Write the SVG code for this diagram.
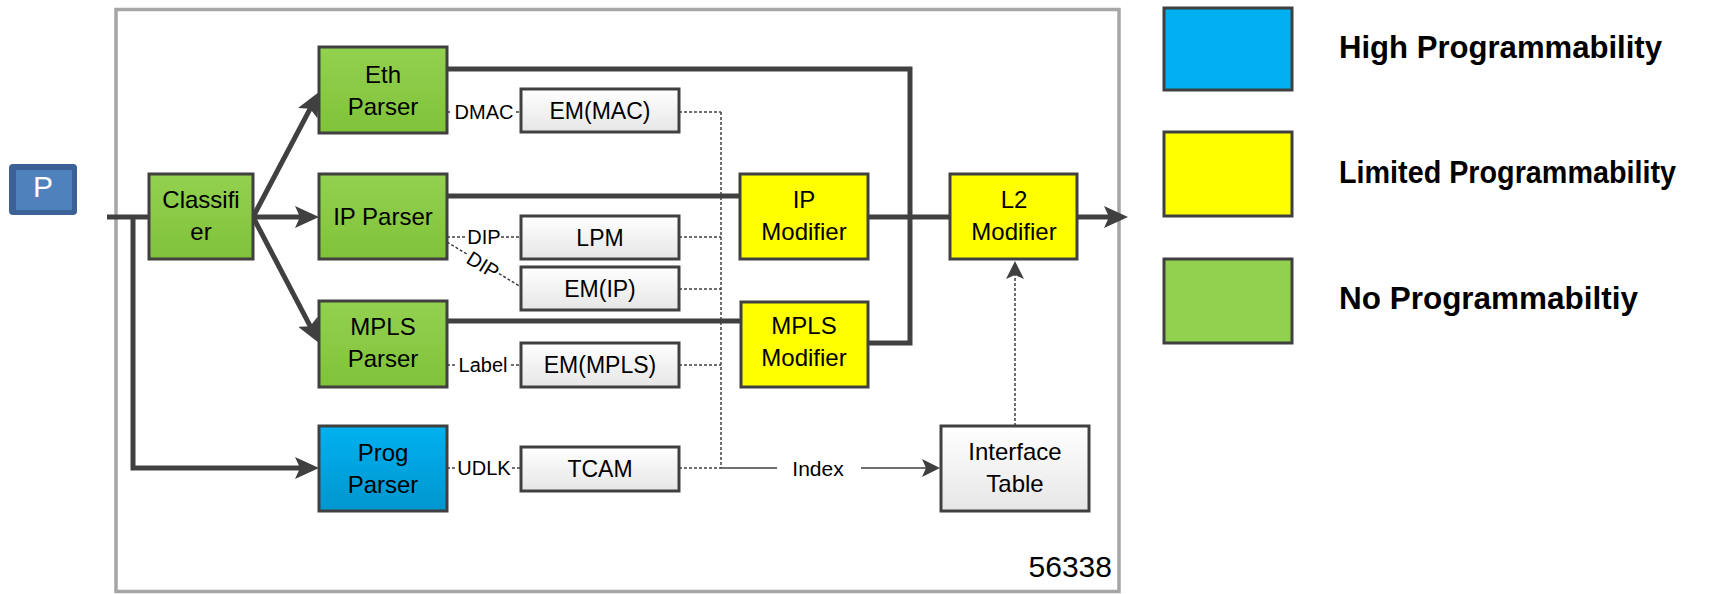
<svg xmlns="http://www.w3.org/2000/svg" width="1723" height="594" viewBox="0 0 1723 594">
<style>
.t{font-family:"Liberation Sans",Arial,sans-serif;fill:#000;text-anchor:middle}
.bx{font-size:24px}
.em{font-size:23px}
.lb{font-size:20px}
.lg{font-size:31px;font-weight:bold;text-anchor:start}
.node{stroke:#404040;stroke-width:3}
.thick{fill:none;stroke:#404040;stroke-width:5}
.thin{fill:none;stroke:#404040;stroke-width:1.5}
.dot{fill:none;stroke:#404040;stroke-width:1.5;stroke-dasharray:3 2}
</style>
<defs>
<linearGradient id="gGreen" x1="0" y1="0" x2="0" y2="1"><stop offset="0" stop-color="#93D150"/><stop offset="1" stop-color="#80C23A"/></linearGradient>
<linearGradient id="gBlue" x1="0" y1="0" x2="0" y2="1"><stop offset="0" stop-color="#00B1F0"/><stop offset="1" stop-color="#0096CE"/></linearGradient>
<linearGradient id="gGray" x1="0" y1="0" x2="0" y2="1"><stop offset="0" stop-color="#FFFFFF"/><stop offset="1" stop-color="#E6E6E6"/></linearGradient>
<marker id="ah" markerUnits="userSpaceOnUse" markerWidth="24" markerHeight="22" refX="14" refY="11" orient="auto"><path d="M0,0 L24,11 L0,22 L5,11 z" fill="#404040"/></marker>
<marker id="ahs" markerUnits="userSpaceOnUse" markerWidth="18" markerHeight="18" refX="10" refY="9" orient="auto"><path d="M0,0 L18,9 L0,18 L4,9 z" fill="#404040"/></marker>
</defs>
<rect width="1723" height="594" fill="#FFFFFF"/>
<rect id="frame" x="116" y="9.5" width="1003" height="582" fill="none" stroke="#A6A6A6" stroke-width="3.5"/>

<g id="connectors">
<path class="thick" d="M107,217 H149"/>
<path class="thick" d="M133,217 V468 H309" marker-end="url(#ah)"/>
<path class="thick" d="M253,217 L314.3,100.8" marker-end="url(#ah)"/>
<path class="thick" d="M253,217 H309" marker-end="url(#ah)"/>
<path class="thick" d="M253,217 L314.4,334.1" marker-end="url(#ah)"/>
<path class="thick" d="M447,69 H910 V343 H868"/>
<path class="thick" d="M447,196 H740"/>
<path class="thick" d="M447,321 H741"/>
<path class="thick" d="M868,217 H950"/>
<path class="thick" d="M1077,217 H1118" marker-end="url(#ah)"/>
<path class="dot" d="M447,112 H451 M516,112 H521"/>
<path class="dot" d="M447,237 H466 M501,237 H521"/>
<path class="dot" d="M447,242 L467,254.2 M499,273.6 L521,287"/>
<path class="dot" d="M447,365 H455 M511,365 H521"/>
<path class="dot" d="M447,468 H455 M512,468 H521"/>
<path class="dot" d="M679,112 H721 M679,237 H721 M679,289 H721 M679,365 H721 M679,468 H721 M721,112 V468"/>
<path class="thin" d="M721,468 H777"/>
<path class="thin" d="M861,468 H932" marker-end="url(#ahs)"/>
<path class="dot" d="M1015,426 V269" marker-end="url(#ahs)"/>
<text class="t lb" x="484" y="119">DMAC</text>
<text class="t lb" x="484" y="244">DIP</text>
<text class="t lb" x="0" y="0" transform="translate(483,265) rotate(31.3)" dy="7">DIP</text>
<text class="t lb" x="483" y="372">Label</text>
<text class="t lb" x="484" y="475">UDLK</text>
<text class="t" style="font-size:21px" x="818" y="476">Index</text>
</g>

<g id="packet">
<rect x="9" y="164" width="68" height="51" rx="4" fill="#3B6196"/>
<rect x="16" y="170" width="56" height="40" fill="#4F81BD"/>
<text class="t" style="font-size:30px;fill:#FFFFFF" x="43" y="197">P</text>
</g>

<g id="classifier">
<rect class="node" x="149" y="174" width="104" height="85" fill="url(#gGreen)"/>
<text class="t bx" x="201" y="208">Classifi</text>
<text class="t bx" x="201" y="240">er</text>
</g>
<g id="eth-parser">
<rect class="node" x="319" y="47" width="128" height="86" fill="url(#gGreen)"/>
<text class="t bx" x="383" y="83">Eth</text>
<text class="t bx" x="383" y="115">Parser</text>
</g>
<g id="ip-parser">
<rect class="node" x="319" y="174" width="128" height="85" fill="url(#gGreen)"/>
<text class="t bx" x="383" y="225">IP Parser</text>
</g>
<g id="mpls-parser">
<rect class="node" x="319" y="301" width="128" height="86" fill="url(#gGreen)"/>
<text class="t bx" x="383" y="335">MPLS</text>
<text class="t bx" x="383" y="367">Parser</text>
</g>
<g id="prog-parser">
<rect class="node" x="319" y="426" width="128" height="85" fill="url(#gBlue)"/>
<text class="t bx" x="383" y="461">Prog</text>
<text class="t bx" x="383" y="493">Parser</text>
</g>

<g id="em-mac">
<rect class="node" x="521" y="89" width="158" height="43" fill="url(#gGray)"/>
<text class="t em" x="600" y="119">EM(MAC)</text>
</g>
<g id="lpm">
<rect class="node" x="521" y="216" width="158" height="43" fill="url(#gGray)"/>
<text class="t em" x="600" y="246">LPM</text>
</g>
<g id="em-ip">
<rect class="node" x="521" y="267" width="158" height="43" fill="url(#gGray)"/>
<text class="t em" x="600" y="297">EM(IP)</text>
</g>
<g id="em-mpls">
<rect class="node" x="521" y="343" width="158" height="44" fill="url(#gGray)"/>
<text class="t em" x="600" y="373">EM(MPLS)</text>
</g>
<g id="tcam">
<rect class="node" x="521" y="447" width="158" height="44" fill="url(#gGray)"/>
<text class="t em" x="600" y="477">TCAM</text>
</g>

<g id="ip-modifier">
<rect class="node" x="740" y="174" width="128" height="85" fill="#FFFF00"/>
<text class="t bx" x="804" y="208">IP</text>
<text class="t bx" x="804" y="240">Modifier</text>
</g>
<g id="mpls-modifier">
<rect class="node" x="741" y="302" width="127" height="85" fill="#FFFF00"/>
<text class="t bx" x="804" y="334">MPLS</text>
<text class="t bx" x="804" y="366">Modifier</text>
</g>
<g id="l2-modifier">
<rect class="node" x="950" y="174" width="127" height="85" fill="#FFFF00"/>
<text class="t bx" x="1014" y="208">L2</text>
<text class="t bx" x="1014" y="240">Modifier</text>
</g>
<g id="interface-table">
<rect class="node" x="941" y="426" width="148" height="85" fill="url(#gGray)"/>
<text class="t bx" x="1015" y="460">Interface</text>
<text class="t bx" x="1015" y="492">Table</text>
</g>

<text class="t" style="font-size:30px;text-anchor:end" x="1112" y="577">56338</text>

<g id="legend">
<rect class="node" x="1164" y="8" width="128" height="82" fill="#00B0F0"/>
<text class="t lg" x="1339" y="58" textLength="323" lengthAdjust="spacingAndGlyphs">High Programmability</text>
<rect class="node" x="1164" y="132" width="128" height="84" fill="#FFFF00"/>
<text class="t lg" x="1339" y="183" textLength="337" lengthAdjust="spacingAndGlyphs">Limited Programmability</text>
<rect class="node" x="1164" y="259" width="128" height="84" fill="#92D050"/>
<text class="t lg" x="1339" y="309" textLength="299" lengthAdjust="spacingAndGlyphs">No Programmabiltiy</text>
</g>
</svg>
